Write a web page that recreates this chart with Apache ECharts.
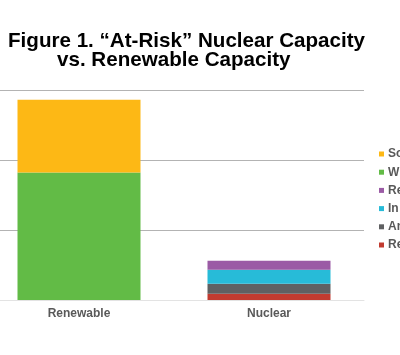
<!DOCTYPE html>
<html><head><meta charset="utf-8">
<script src="https://cdn.jsdelivr.net/npm/echarts@6/dist/echarts.min.js"></script>
<style>html,body{margin:0;padding:0;background:#fff}#c{width:400px;height:355px}</style>
</head><body><div id="c"></div>
<script>
const categories = ["Renewable", "Nuclear"];
const solar = [52, 0];
const wind = [91, 0];
const retired = [0, 4.5];
const announced = [0, 7.1];
const inDanger = [0, 10];
const rescued = [0, 6.4];
const legendOrder = ["Solar", "Wind", "Rescued by State Policy", "In Danger", "Announced Retirement", "Retired"];

const chart = echarts.init(document.getElementById('c'), null, {renderer: 'canvas'});
function s(name, data, color) {
  return {name, type: 'bar', stack: 'a', data, barWidth: 123, itemStyle: {color}, emphasis: {disabled: true}};
}
chart.setOption({
  animation: false,
  title: [
    {text: 'Figure 1. \u201cAt-Risk\u201d Nuclear Capacity', left: 3, top: 26,
     textStyle: {fontFamily: 'Liberation Sans', fontWeight: 'bold', fontSize: 20.6, color: '#000'}},
    {text: 'vs. Renewable Capacity', left: 52, top: 45,
     textStyle: {fontFamily: 'Liberation Sans', fontWeight: 'bold', fontSize: 20.6, color: '#000'}}
  ],
  grid: {left: -16, right: 36, top: 90, bottom: 55, containLabel: false, outerBoundsMode: 'none'},
  legend: {
    orient: 'vertical', left: 374, top: 143, itemWidth: 5, itemHeight: 5, itemGap: 6.2,
    icon: 'rect', data: legendOrder,
    textStyle: {fontFamily: 'Liberation Sans', fontWeight: 'bold', fontSize: 12, color: '#595959', padding: [0,0,0,-1]}
  },
  xAxis: {
    type: 'category', data: categories,
    axisLine: {lineStyle: {color: '#e3e3e3'}}, axisTick: {show: false},
    axisLabel: {fontFamily: 'Liberation Sans', fontWeight: 'bold', fontSize: 12, color: '#595959', margin: 8}
  },
  yAxis: {
    type: 'value', min: 0, max: 150, interval: 50,
    axisLabel: {show: false}, axisLine: {show: false}, axisTick: {show: false},
    splitLine: {lineStyle: {color: '#b3b3b3', width: 1}}
  },
  series: [
    s('Wind', wind, '#62BB46'),
    s('Solar', solar, '#FDB815'),
    s('Retired', retired, '#C13B30'),
    s('Announced Retirement', announced, '#5F6062'),
    s('In Danger', inDanger, '#27BBD8'),
    s('Rescued by State Policy', rescued, '#9B5BA5')
  ]
});
</script></body></html>
